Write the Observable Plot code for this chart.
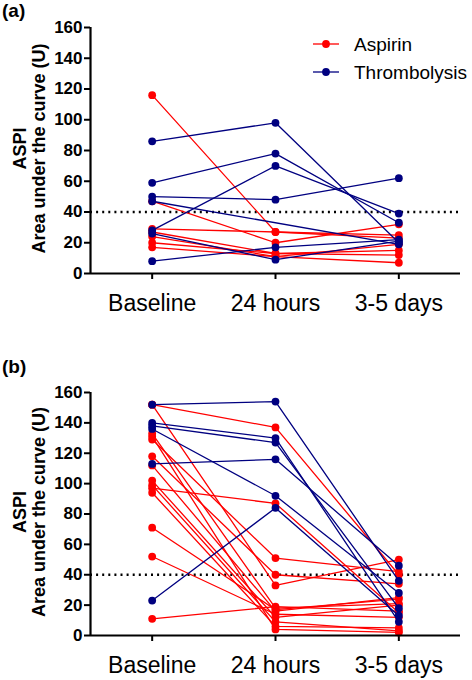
<!DOCTYPE html>
<html>
<head>
<meta charset="utf-8">
<script src="https://cdn.jsdelivr.net/npm/d3@7"></script>
<script src="https://cdn.jsdelivr.net/npm/@observablehq/plot@0.6"></script>
<style>
  html, body { margin: 0; padding: 0; background: #fff; }
  #wrap { position: relative; width: 472px; height: 680px; font-family: "Liberation Sans", Arial, sans-serif; }
  .panel { position: absolute; left: 0; }
  .plabel { position: absolute; left: 2px; font-weight: bold; font-size: 19px; line-height: 19px; }
  #legend { position: absolute; left: 0; top: 0; }
</style>
</head>
<body>
<div id="wrap"></div>
<script>
// ---- data ----
const categories = ["Baseline", "24 hours", "3-5 days"];
const groups = ["Aspirin", "Thrombolysis"];
const groupColors = ["#ff0000", "#000080"];
const yTicks = [0, 20, 40, 60, 80, 100, 120, 140, 160];
const threshold = 40;
const yTitle = "ASPI\nArea under the curve (U)";

// panel (a): each row = one patient [Baseline, 24 hours, 3-5 days]
const aAspirin = [
  [116, 27, 23],
  [47, 20, 32],
  [29, 27, 25],
  [27, 13, 15],
  [24, 11, 19],
  [20, 13, 12],
  [17, 11, 7]
];
const aThrombolysis = [
  [86, 98, 20],
  [59, 78, 33],
  [50, 48, 62],
  [47, null, 19],
  [28, 70, 39],
  [26, 9, 21],
  [8, 17, 22]
];

// panel (b)
const bAspirin = [
  [152, 137, 40],
  [152, 33, 50],
  [133, 18, 21],
  [131, 4, 2],
  [129, 51, 42],
  [118, 40, 34],
  [112, 16, 25],
  [102, 12, 20],
  [99, 9, 3],
  [97, 87, 15],
  [94, 6, 5],
  [71, 17, 24],
  [52, 14, 12],
  [11, 19, 16]
];
const bThrombolysis = [
  [152, 154, 36],
  [140, 130, 9],
  [138, 127, 18],
  [136, 92, 28],
  [113, 116, 46],
  [23, 84, 13]
];

// ---- build ----
function toRows(series, group) {
  const rows = [];
  series.forEach((vals, id) => {
    vals.forEach((v, j) => {
      if (v != null) rows.push({group, id: group + id, t: j, v});
    });
  });
  return rows;
}

function panel(aspirin, thromb, opts) {
  const rA = toRows(aspirin, groups[0]);
  const rT = toRows(thromb, groups[1]);
  return Plot.plot({
    width: 472,
    height: 340,
    marginLeft: 90,
    marginRight: 12,
    marginTop: opts.marginTop,
    marginBottom: opts.marginBottom,
    x: {type: "linear", domain: [-0.5, categories.length - 0.5]},
    y: {domain: [yTicks[0], yTicks[yTicks.length - 1]]},
    color: {domain: groups, range: groupColors},
    style: {fontFamily: "'Liberation Sans', Arial, sans-serif", color: "#000", background: "transparent", overflow: "visible"},
    marks: [
      Plot.axisY({ticks: yTicks, tickSize: 6, tickPadding: 2, fontSize: 17, fontWeight: "bold", strokeWidth: 2, label: null}),
      Plot.axisX({ticks: d3.range(categories.length), tickFormat: i => categories[i], tickSize: 6, tickPadding: 15, fontSize: 23, strokeWidth: 2, label: null}),
      Plot.ruleY([threshold], {strokeDasharray: "2,4.1", strokeWidth: 2.3, stroke: "#000"}),
      Plot.line(rA, {x: "t", y: "v", z: "id", stroke: "group", strokeWidth: 1.3}),
      Plot.dot(rA, {x: "t", y: "v", fill: "group", r: 3.9}),
      Plot.line(rT, {x: "t", y: "v", z: "id", stroke: "group", strokeWidth: 1.3}),
      Plot.dot(rT, {x: "t", y: "v", fill: "group", r: 3.9}),
      Plot.ruleX([-0.5], {strokeWidth: 2.2, stroke: "#000"}),
      Plot.ruleY([0], {strokeWidth: 2.2, stroke: "#000"}),
      Plot.text([yTitle], {frameAnchor: "left", textAnchor: "middle", lineAnchor: "middle", rotate: -90, dx: -61, dy: -2, fontSize: 18, fontWeight: "bold", lineHeight: 1.05, fill: "#000"})
    ]
  });
}

const wrap = document.getElementById("wrap");

const pa = panel(aAspirin, aThrombolysis, {marginTop: 27, marginBottom: 67});
pa.classList.add("panel");
pa.style.top = "0px";
wrap.appendChild(pa);

const pb = panel(bAspirin, bThrombolysis, {marginTop: 52, marginBottom: 45});
pb.classList.add("panel");
pb.style.top = "340px";
wrap.appendChild(pb);

// panel labels
[["(a)", 1], ["(b)", 357]].forEach(([t, top]) => {
  const d = document.createElement("div");
  d.className = "plabel";
  d.style.top = top + "px";
  d.textContent = t;
  wrap.appendChild(d);
});

// legend
const leg = d3.select(wrap).append("svg").attr("id", "legend").attr("width", 472).attr("height", 100);
groups.forEach((g, i) => {
  const y = 44 + i * 28;
  const gg = leg.append("g");
  gg.append("line").attr("x1", 313).attr("x2", 339).attr("y1", y).attr("y2", y).attr("stroke", groupColors[i]).attr("stroke-width", 1.3);
  gg.append("circle").attr("cx", 326).attr("cy", y).attr("r", 3.9).attr("fill", groupColors[i]);
  gg.append("text").attr("x", 354).attr("y", y).attr("dy", "0.36em").attr("font-size", 19)
    .attr("font-family", "'Liberation Sans', Arial, sans-serif").text(g);
});
</script>
</body>
</html>
